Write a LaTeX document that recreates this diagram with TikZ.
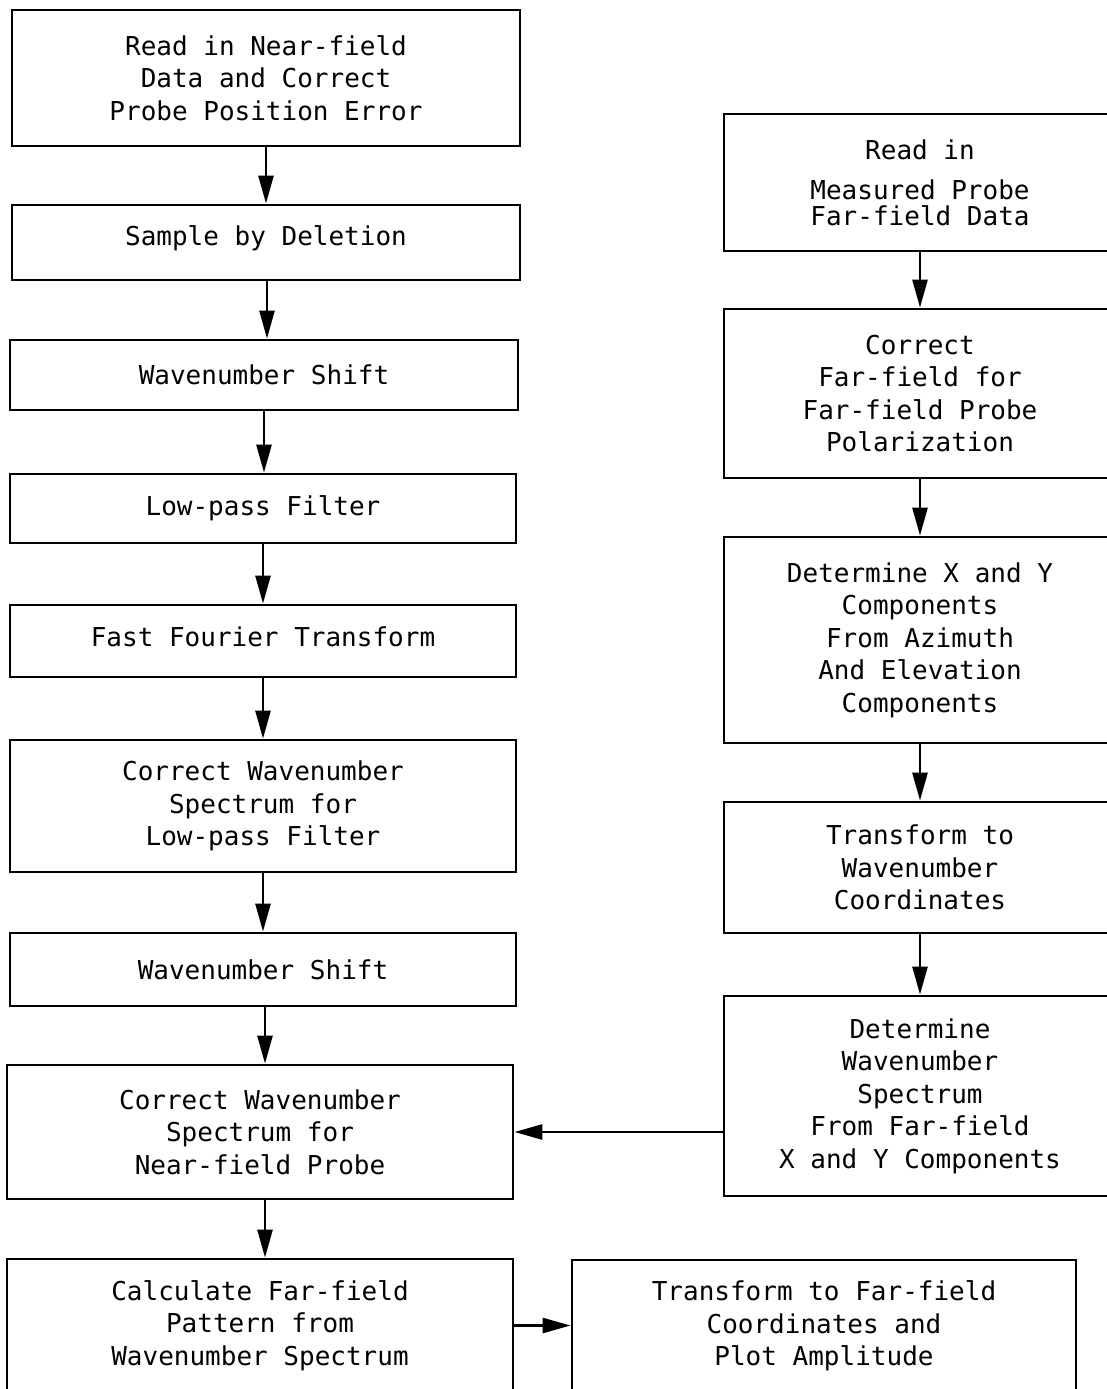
\documentclass[tikz,border=0pt]{standalone}
\usepackage{fontspec}
\setmonofont{DejaVu Sans Mono}
\usetikzlibrary{arrows.meta}
\begin{document}
\begin{tikzpicture}[x=1pt,y=-1pt,
  box/.style={draw, line width=2.8pt, rectangle, inner sep=0pt, align=center,
    font=\ttfamily\fontsize{26}{32.5}\selectfont},
  flow/.style={line width=2.6pt, -{Triangle[length=28pt,width=15pt]}}]
\useasboundingbox[fill=white] (0,0) rectangle (1107,1389);

% near-field processing chain
\node[box, minimum width=508pt, minimum height=136pt] (b1) at (266,78)
  {Read in Near-field\\Data and Correct\\Probe Position Error};
\node[box, minimum width=508pt, minimum height=75pt] (b2) at (266,242.5)
  {\raisebox{14pt}{Sample by Deletion}};
\node[box, minimum width=508pt, minimum height=70pt] (b3) at (264,375)
  {Wavenumber Shift};
\node[box, minimum width=506pt, minimum height=69pt] (b4) at (263,508.5)
  {Low-pass Filter};
\node[box, minimum width=506pt, minimum height=72pt] (b5) at (263,641)
  {\raisebox{8pt}{Fast Fourier Transform}};
\node[box, minimum width=506pt, minimum height=132pt] (b6) at (263,806)
  {Correct Wavenumber\\Spectrum for\\Low-pass Filter};
\node[box, minimum width=506pt, minimum height=73pt] (b7) at (263,969.5)
  {Wavenumber Shift};
\node[box, minimum width=506pt, minimum height=134pt] (b8) at (260,1132)
  {Correct Wavenumber\\Spectrum for\\Near-field Probe};
\node[box, minimum width=506pt, minimum height=133pt] (b9) at (260,1325.5)
  {Calculate Far-field\\Pattern from\\Wavenumber Spectrum};
\node[box, minimum width=504pt, minimum height=132pt] (br) at (824,1326)
  {Transform to Far-field\\Coordinates and\\Plot Amplitude};

% probe far-field chain
\node[box, minimum width=392pt, minimum height=137pt] (r1) at (920,182.5)
  {Read in\\[8pt]Measured Probe\\[-7pt]Far-field Data};
\node[box, minimum width=392pt, minimum height=169pt] (r2) at (920,393.5)
  {Correct\\Far-field for\\Far-field Probe\\Polarization};
\node[box, minimum width=392pt, minimum height=206pt] (r3) at (920,640)
  {Determine X and Y\\Components\\From Azimuth\\And Elevation\\Components};
\node[box, minimum width=392pt, minimum height=131pt] (r4) at (920,867.5)
  {Transform to\\Wavenumber\\Coordinates};
\node[box, minimum width=392pt, minimum height=200pt] (r5) at (920,1096)
  {Determine\\Wavenumber\\Spectrum\\From Far-field\\X and Y Components};

% connectors
\draw[flow] (b1.south) -- (b2.north);
\draw[flow] ([xshift=1pt]b2.south) -- ([xshift=1pt]b2.south |- b3.north);
\draw[flow] (b3.south) -- (b3.south |- b4.north);
\draw[flow] (b4.south) -- (b5.north);
\draw[flow] (b5.south) -- (b6.north);
\draw[flow] (b6.south) -- (b7.north);
\draw[flow] ([xshift=2pt]b7.south) -- ([xshift=2pt]b7.south |- b8.north);
\draw[flow] ([xshift=5pt]b8.south) -- ([xshift=5pt]b9.north);
\draw[flow] (r1.south) -- (r2.north);
\draw[flow] (r2.south) -- (r3.north);
\draw[flow] (r3.south) -- (r4.north);
\draw[flow] (r4.south) -- (r5.north);
\draw[flow] (r5.west |- b8.east) -- (b8.east);
\draw[flow] (b9.east) -- (br.west |- b9.east);
\end{tikzpicture}
\end{document}
